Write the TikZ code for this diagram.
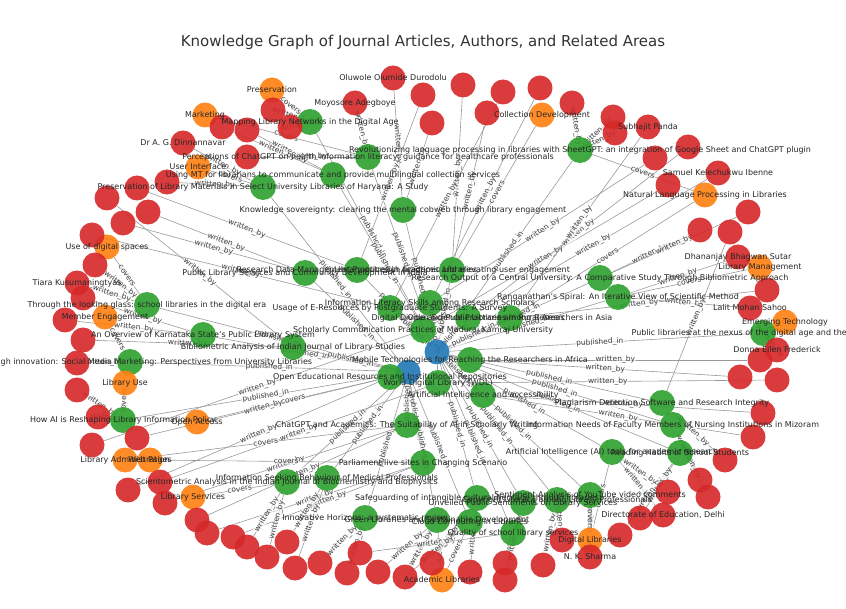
\documentclass[tikz,border=0pt]{standalone}
\usepackage{fontspec}
\setmainfont{DejaVu Sans}
\definecolor{jrnlblue}{HTML}{1F77B4}
\definecolor{artgreen}{HTML}{2CA02C}
\definecolor{authred}{HTML}{D62728}
\definecolor{areaorange}{HTML}{FF7F0E}
\pgfdeclarelayer{bg}
\pgfsetlayers{bg,main}

\begin{document}
\begin{tikzpicture}[x=1pt, y=-1pt,
                      jrnlnode/.style={circle, fill=jrnlblue, fill opacity=0.9, minimum size=25pt, inner sep=0pt},
                      artnode/.style={circle, fill=artgreen, fill opacity=0.9, minimum size=26pt, inner sep=0pt},
                      authnode/.style={circle, fill=authred, fill opacity=0.9, minimum size=25pt, inner sep=0pt},
                      areanode/.style={circle, fill=areaorange, fill opacity=0.9, minimum size=25pt, inner sep=0pt},
                      nlabel/.style={font=\fontsize{8}{9}\selectfont, text=black!85, inner sep=0pt},
                      link/.style={draw=black!40, line width=0.6pt},
                      elabel/.style={font=\fontsize{7.5}{8}\selectfont, text=black!75, sloped, inner sep=0.5pt, fill=white, fill opacity=0.6, text opacity=1},
                  ]
                  \useasboundingbox (0,0) rectangle (846,609);
                  \node[font=\fontsize{15}{18}\selectfont, text=black!80] (title) at (423,42) {Knowledge Graph of Journal Articles, Authors, and Related Areas};

                  % Nodes
                  \node[jrnlnode]   (jrnl_1)  at (437,352) {};
                  \node[jrnlnode]   (jrnl_2)  at (408,372) {};

                  \node[artnode]    (art_1)   at (310,122) {};
                  \node[artnode]    (art_2)   at (368,157) {};
                  \node[artnode]    (art_3)   at (333,175) {};
                  \node[artnode]    (art_4)   at (263,187) {};
                  \node[artnode]    (art_5)   at (403,210) {};
                  \node[artnode]    (art_6)   at (580,150) {};
                  \node[artnode]    (art_7)   at (305,273) {};
                  \node[artnode]    (art_8)   at (357,270) {};
                  \node[artnode]    (art_9)   at (452,270) {};
                  \node[artnode]    (art_10)  at (600,278) {};
                  \node[artnode]    (art_11)  at (618,297) {};
                  \node[artnode]    (art_12)  at (147,305) {};
                  \node[artnode]    (art_13)  at (203,335) {};
                  \node[artnode]    (art_14)  at (293,347) {};
                  \node[artnode]    (art_15)  at (130,362) {};
                  \node[artnode]    (art_16)  at (123,420) {};
                  \node[artnode]    (art_17)  at (390,308) {};
                  \node[artnode]    (art_18)  at (430,303) {};
                  \node[artnode]    (art_19)  at (423,330) {};
                  \node[artnode]    (art_20)  at (468,318) {};
                  \node[artnode]    (art_21)  at (510,318) {};
                  \node[artnode]    (art_22)  at (470,360) {};
                  \node[artnode]    (art_23)  at (390,377) {};
                  \node[artnode]    (art_24)  at (438,383) {};
                  \node[artnode]    (art_25)  at (483,395) {};
                  \node[artnode]    (art_26)  at (407,425) {};
                  \node[artnode]    (art_27)  at (423,463) {};
                  \node[artnode]    (art_28)  at (763,333) {};
                  \node[artnode]    (art_29)  at (662,403) {};
                  \node[artnode]    (art_30)  at (673,425) {};
                  \node[artnode]    (art_31)  at (612,452) {};
                  \node[artnode]    (art_32)  at (680,453) {};
                  \node[artnode]    (art_33)  at (287,482) {};
                  \node[artnode]    (art_34)  at (327,478) {};
                  \node[artnode]    (art_35)  at (365,518) {};
                  \node[artnode]    (art_36)  at (437,520) {};
                  \node[artnode]    (art_37)  at (477,498) {};
                  \node[artnode]    (art_38)  at (523,503) {};
                  \node[artnode]    (art_39)  at (557,500) {};
                  \node[artnode]    (art_40)  at (590,495) {};
                  \node[artnode]    (art_41)  at (513,533) {};
                  \node[artnode]    (art_42)  at (470,522) {};

                  \node[areanode]   (area_1)  at (272,90)  {};
                  \node[areanode]   (area_2)  at (205,115) {};
                  \node[areanode]   (area_3)  at (198,167) {};
                  \node[areanode]   (area_4)  at (542,115) {};
                  \node[areanode]   (area_5)  at (705,195) {};
                  \node[areanode]   (area_6)  at (760,267) {};
                  \node[areanode]   (area_7)  at (785,322) {};
                  \node[areanode]   (area_8)  at (107,247) {};
                  \node[areanode]   (area_9)  at (105,317) {};
                  \node[areanode]   (area_10) at (125,383) {};
                  \node[areanode]   (area_11) at (197,422) {};
                  \node[areanode]   (area_12) at (125,460) {};
                  \node[areanode]   (area_13) at (150,460) {};
                  \node[areanode]   (area_14) at (193,497) {};
                  \node[areanode]   (area_15) at (442,580) {};
                  \node[areanode]   (area_16) at (590,540) {};

                  \node[authnode]   (auth_1)  at (393,78)  {};
                  \node[authnode]   (auth_2)  at (423,95)  {};
                  \node[authnode]   (auth_3)  at (463,85)  {};
                  \node[authnode]   (auth_4)  at (503,92)  {};
                  \node[authnode]   (auth_5)  at (540,88)  {};
                  \node[authnode]   (auth_6)  at (572,103) {};
                  \node[authnode]   (auth_7)  at (487,113) {};
                  \node[authnode]   (auth_8)  at (432,123) {};
                  \node[authnode]   (auth_9)  at (355,103) {};
                  \node[authnode]   (auth_10) at (273,110) {};
                  \node[authnode]   (auth_11) at (290,127) {};
                  \node[authnode]   (auth_12) at (247,130) {};
                  \node[authnode]   (auth_13) at (222,127) {};
                  \node[authnode]   (auth_14) at (247,157) {};
                  \node[authnode]   (auth_15) at (183,143) {};
                  \node[authnode]   (auth_16) at (137,188) {};
                  \node[authnode]   (auth_17) at (167,182) {};
                  \node[authnode]   (auth_18) at (107,198) {};
                  \node[authnode]   (auth_19) at (148,212) {};
                  \node[authnode]   (auth_20) at (123,223) {};
                  \node[authnode]   (auth_21) at (92,235)  {};
                  \node[authnode]   (auth_22) at (95,265)  {};
                  \node[authnode]   (auth_23) at (77,283)  {};
                  \node[authnode]   (auth_24) at (83,298)  {};
                  \node[authnode]   (auth_25) at (65,320)  {};
                  \node[authnode]   (auth_26) at (83,340)  {};
                  \node[authnode]   (auth_27) at (77,363)  {};
                  \node[authnode]   (auth_28) at (77,390)  {};
                  \node[authnode]   (auth_29) at (98,417)  {};
                  \node[authnode]   (auth_30) at (92,445)  {};
                  \node[authnode]   (auth_31) at (137,438) {};
                  \node[authnode]   (auth_32) at (128,490) {};
                  \node[authnode]   (auth_33) at (160,482) {};
                  \node[authnode]   (auth_34) at (165,503) {};
                  \node[authnode]   (auth_35) at (197,520) {};
                  \node[authnode]   (auth_36) at (207,533) {};
                  \node[authnode]   (auth_37) at (233,537) {};
                  \node[authnode]   (auth_38) at (247,547) {};
                  \node[authnode]   (auth_39) at (267,557) {};
                  \node[authnode]   (auth_40) at (287,542) {};
                  \node[authnode]   (auth_41) at (295,568) {};
                  \node[authnode]   (auth_42) at (320,563) {};
                  \node[authnode]   (auth_43) at (347,573) {};
                  \node[authnode]   (auth_44) at (360,553) {};
                  \node[authnode]   (auth_45) at (378,572) {};
                  \node[authnode]   (auth_46) at (405,577) {};
                  \node[authnode]   (auth_47) at (432,563) {};
                  \node[authnode]   (auth_48) at (470,572) {};
                  \node[authnode]   (auth_49) at (505,563) {};
                  \node[authnode]   (auth_50) at (505,580) {};
                  \node[authnode]   (auth_51) at (543,565) {};
                  \node[authnode]   (auth_52) at (562,540) {};
                  \node[authnode]   (auth_53) at (590,557) {};
                  \node[authnode]   (auth_54) at (620,535) {};
                  \node[authnode]   (auth_55) at (640,518) {};
                  \node[authnode]   (auth_56) at (663,515) {};
                  \node[authnode]   (auth_57) at (668,492) {};
                  \node[authnode]   (auth_58) at (700,480) {};
                  \node[authnode]   (auth_59) at (708,497) {};
                  \node[authnode]   (auth_60) at (725,460) {};
                  \node[authnode]   (auth_61) at (753,437) {};
                  \node[authnode]   (auth_62) at (763,413) {};
                  \node[authnode]   (auth_63) at (777,380) {};
                  \node[authnode]   (auth_64) at (740,377) {};
                  \node[authnode]   (auth_65) at (760,360) {};
                  \node[authnode]   (auth_66) at (777,350) {};
                  \node[authnode]   (auth_67) at (750,308) {};
                  \node[authnode]   (auth_68) at (767,290) {};
                  \node[authnode]   (auth_69) at (738,257) {};
                  \node[authnode]   (auth_70) at (730,232) {};
                  \node[authnode]   (auth_71) at (700,230) {};
                  \node[authnode]   (auth_72) at (748,212) {};
                  \node[authnode]   (auth_73) at (718,173) {};
                  \node[authnode]   (auth_74) at (668,185) {};
                  \node[authnode]   (auth_75) at (688,147) {};
                  \node[authnode]   (auth_76) at (655,158) {};
                  \node[authnode]   (auth_77) at (648,127) {};
                  \node[authnode]   (auth_78) at (615,133) {};
                  \node[authnode]   (auth_79) at (613,117) {};

                  %Lines
                  \begin{pgfonlayer}{bg}
                  \draw[link] (art_1) -- node[elabel]{published\_in} (jrnl_1);
                  \draw[link] (art_2) -- node[elabel]{published\_in} (jrnl_1);
                  \draw[link] (art_3) -- node[elabel]{published\_in} (jrnl_1);
                  \draw[link] (art_4) -- node[elabel]{published\_in} (jrnl_2);
                  \draw[link] (art_5) -- node[elabel]{published\_in} (jrnl_1);
                  \draw[link] (art_6) -- node[elabel]{published\_in} (jrnl_1);
                  \draw[link] (art_7) -- node[elabel]{published\_in} (jrnl_2);
                  \draw[link] (art_8) -- node[elabel]{published\_in} (jrnl_1);
                  \draw[link] (art_9) -- node[elabel]{published\_in} (jrnl_1);
                  \draw[link] (art_10) -- node[elabel]{published\_in} (jrnl_1);
                  \draw[link] (art_11) -- node[elabel]{published\_in} (jrnl_1);
                  \draw[link] (art_12) -- node[elabel]{published\_in} (jrnl_2);
                  \draw[link] (art_13) -- node[elabel]{published\_in} (jrnl_2);
                  \draw[link] (art_14) -- node[elabel]{published\_in} (jrnl_2);
                  \draw[link] (art_15) -- node[elabel]{published\_in} (jrnl_2);
                  \draw[link] (art_16) -- node[elabel]{published\_in} (jrnl_2);
                  \draw[link] (art_17) -- node[elabel]{published\_in} (jrnl_1);
                  \draw[link] (art_18) -- node[elabel]{published\_in} (jrnl_1);
                  \draw[link] (art_19) -- (jrnl_1);
                  \draw[link] (art_20) -- node[elabel]{published\_in} (jrnl_1);
                  \draw[link] (art_21) -- node[elabel]{published\_in} (jrnl_1);
                  \draw[link] (art_22) -- (jrnl_1);
                  \draw[link] (art_23) -- (jrnl_2);
                  \draw[link] (art_24) -- (jrnl_1);
                  \draw[link] (art_25) -- node[elabel]{published\_in} (jrnl_1);
                  \draw[link] (art_26) -- node[elabel]{published\_in} (jrnl_2);
                  \draw[link] (art_27) -- node[elabel]{published\_in} (jrnl_2);
                  \draw[link] (art_28) -- node[elabel]{published\_in} (jrnl_1);
                  \draw[link] (art_29) -- node[elabel]{published\_in} (jrnl_1);
                  \draw[link] (art_30) -- node[elabel]{published\_in} (jrnl_1);
                  \draw[link] (art_31) -- node[elabel]{published\_in} (jrnl_1);
                  \draw[link] (art_32) -- node[elabel]{published\_in} (jrnl_1);
                  \draw[link] (art_33) -- node[elabel]{published\_in} (jrnl_2);
                  \draw[link] (art_34) -- node[elabel]{published\_in} (jrnl_2);
                  \draw[link] (art_35) -- node[elabel]{published\_in} (jrnl_2);
                  \draw[link] (art_36) -- node[elabel]{published\_in} (jrnl_2);
                  \draw[link] (art_37) -- node[elabel]{published\_in} (jrnl_1);
                  \draw[link] (art_38) -- node[elabel]{published\_in} (jrnl_1);
                  \draw[link] (art_39) -- node[elabel]{published\_in} (jrnl_1);
                  \draw[link] (art_40) -- node[elabel]{published\_in} (jrnl_1);
                  \draw[link] (art_41) -- node[elabel]{published\_in} (jrnl_1);
                  \draw[link] (art_42) -- node[elabel]{published\_in} (jrnl_2);

                  \draw[link] (art_1) -- node[elabel]{written\_by} (auth_10);
                  \draw[link] (art_1) -- node[elabel]{written\_by} (auth_11);
                  \draw[link] (art_1) -- node[elabel]{covers} (area_1);
                  \draw[link] (art_2) -- node[elabel]{written\_by} (auth_9);
                  \draw[link] (art_2) -- node[elabel]{written\_by} (auth_14);
                  \draw[link] (art_2) -- node[elabel]{covers} (area_2);
                  \draw[link] (art_3) -- node[elabel]{written\_by} (auth_12);
                  \draw[link] (art_3) -- node[elabel]{written\_by} (auth_13);
                  \draw[link] (art_4) -- node[elabel]{written\_by} (auth_15);
                  \draw[link] (art_4) -- node[elabel]{written\_by} (auth_17);
                  \draw[link] (art_4) -- node[elabel]{covers} (area_3);
                  \draw[link] (art_5) -- node[elabel]{written\_by} (auth_1);
                  \draw[link] (art_5) -- node[elabel]{written\_by} (auth_8);
                  \draw[link] (art_6) -- node[elabel]{written\_by} (auth_6);
                  \draw[link] (art_6) -- node[elabel]{written\_by} (auth_79);
                  \draw[link] (art_6) -- node[elabel]{written\_by} (auth_78);
                  \draw[link] (art_6) -- node[elabel]{covers} (area_5);
                  \draw[link] (art_7) -- node[elabel]{written\_by} (auth_19);
                  \draw[link] (art_7) -- node[elabel]{written\_by} (auth_20);
                  \draw[link] (art_8) -- node[elabel]{written\_by} (auth_2);
                  \draw[link] (art_8) -- node[elabel]{written\_by} (auth_16);
                  \draw[link] (art_9) -- node[elabel]{written\_by} (auth_3);
                  \draw[link] (art_9) -- node[elabel]{written\_by} (auth_7);
                  \draw[link] (art_9) -- node[elabel]{covers} (area_4);
                  \draw[link] (art_10) -- node[elabel]{written\_by} (auth_71);
                  \draw[link] (art_10) -- node[elabel]{written\_by} (auth_72);
                  \draw[link] (art_11) -- node[elabel]{written\_by} (auth_67);
                  \draw[link] (art_11) -- node[elabel]{written\_by} (auth_69);
                  \draw[link] (art_11) -- node[elabel]{covers} (area_6);
                  \draw[link] (art_12) -- node[elabel]{written\_by} (auth_22);
                  \draw[link] (art_12) -- node[elabel]{written\_by} (auth_23);
                  \draw[link] (art_12) -- node[elabel]{covers} (area_8);
                  \draw[link] (art_13) -- node[elabel]{written\_by} (auth_24);
                  \draw[link] (art_13) -- node[elabel]{written\_by} (auth_25);
                  \draw[link] (art_14) -- node[elabel]{written\_by} (auth_26);
                  \draw[link] (art_14) -- node[elabel]{written\_by} (auth_18);
                  \draw[link] (art_15) -- node[elabel]{written\_by} (auth_27);
                  \draw[link] (art_15) -- node[elabel]{covers} (area_9);
                  \draw[link] (art_16) -- node[elabel]{written\_by} (auth_28);
                  \draw[link] (art_16) -- node[elabel]{written\_by} (auth_29);
                  \draw[link] (art_16) -- node[elabel]{covers} (area_10);
                  \draw[link] (art_17) -- node[elabel]{written\_by} (auth_4);
                  \draw[link] (art_17) -- node[elabel]{written\_by} (auth_21);
                  \draw[link] (art_18) -- node[elabel]{written\_by} (auth_5);
                  \draw[link] (art_18) -- node[elabel]{written\_by} (auth_76);
                  \draw[link] (art_19) -- node[elabel]{written\_by} (auth_74);
                  \draw[link] (art_19) -- node[elabel]{written\_by} (auth_30);
                  \draw[link] (art_20) -- node[elabel]{written\_by} (auth_73);
                  \draw[link] (art_20) -- node[elabel]{written\_by} (auth_75);
                  \draw[link] (art_21) -- node[elabel]{written\_by} (auth_68);
                  \draw[link] (art_21) -- node[elabel]{written\_by} (auth_77);
                  \draw[link] (art_21) -- node[elabel]{covers} (area_5);
                  \draw[link] (art_22) -- node[elabel]{written\_by} (auth_65);
                  \draw[link] (art_22) -- node[elabel]{written\_by} (auth_64);
                  \draw[link] (art_23) -- node[elabel]{written\_by} (auth_31);
                  \draw[link] (art_23) -- node[elabel]{written\_by} (auth_32);
                  \draw[link] (art_23) -- node[elabel]{covers} (area_11);
                  \draw[link] (art_24) -- node[elabel]{written\_by} (auth_63);
                  \draw[link] (art_24) -- node[elabel]{written\_by} (auth_33);
                  \draw[link] (art_25) -- node[elabel]{written\_by} (auth_61);
                  \draw[link] (art_25) -- node[elabel]{written\_by} (auth_62);
                  \draw[link] (art_26) -- node[elabel]{written\_by} (auth_34);
                  \draw[link] (art_26) -- node[elabel]{written\_by} (auth_35);
                  \draw[link] (art_26) -- node[elabel]{covers} (area_12);
                  \draw[link] (art_27) -- node[elabel]{written\_by} (auth_36);
                  \draw[link] (art_27) -- node[elabel]{written\_by} (auth_37);
                  \draw[link] (art_27) -- node[elabel]{covers} (area_13);
                  \draw[link] (art_28) -- node[elabel]{written\_by} (auth_66);
                  \draw[link] (art_28) -- node[elabel]{covers} (area_7);
                  \draw[link] (art_29) -- node[elabel]{written\_by} (auth_60);
                  \draw[link] (art_29) -- node[elabel]{written\_by} (auth_70);
                  \draw[link] (art_30) -- node[elabel]{written\_by} (auth_58);
                  \draw[link] (art_30) -- node[elabel]{written\_by} (auth_59);
                  \draw[link] (art_31) -- node[elabel]{written\_by} (auth_56);
                  \draw[link] (art_31) -- node[elabel]{written\_by} (auth_57);
                  \draw[link] (art_31) -- node[elabel]{covers} (area_16);
                  \draw[link] (art_32) -- node[elabel]{written\_by} (auth_54);
                  \draw[link] (art_32) -- node[elabel]{written\_by} (auth_55);
                  \draw[link] (art_33) -- node[elabel]{written\_by} (auth_38);
                  \draw[link] (art_33) -- node[elabel]{written\_by} (auth_39);
                  \draw[link] (art_33) -- node[elabel]{covers} (area_14);
                  \draw[link] (art_34) -- node[elabel]{written\_by} (auth_40);
                  \draw[link] (art_34) -- node[elabel]{written\_by} (auth_41);
                  \draw[link] (art_35) -- node[elabel]{written\_by} (auth_42);
                  \draw[link] (art_35) -- node[elabel]{written\_by} (auth_43);
                  \draw[link] (art_36) -- node[elabel]{written\_by} (auth_45);
                  \draw[link] (art_36) -- node[elabel]{written\_by} (auth_46);
                  \draw[link] (art_36) -- node[elabel]{covers} (area_15);
                  \draw[link] (art_37) -- node[elabel]{written\_by} (auth_47);
                  \draw[link] (art_37) -- node[elabel]{written\_by} (auth_48);
                  \draw[link] (art_38) -- node[elabel]{written\_by} (auth_49);
                  \draw[link] (art_38) -- node[elabel]{written\_by} (auth_50);
                  \draw[link] (art_39) -- node[elabel]{written\_by} (auth_51);
                  \draw[link] (art_39) -- node[elabel]{written\_by} (auth_52);
                  \draw[link] (art_40) -- node[elabel]{written\_by} (auth_53);
                  \draw[link] (art_40) -- node[elabel]{covers} (area_16);
                  \draw[link] (art_41) -- node[elabel]{written\_by} (auth_44);
                  \draw[link] (art_42) -- node[elabel]{written\_by} (auth_46);
                  \draw[link] (art_42) -- node[elabel]{covers} (area_15);
                  \end{pgfonlayer}

                  % Labels
                  \node[nlabel] (art_1_txt)  at (art_1)  {Mapping Library Networks in the Digital Age};
                  \node[nlabel] (art_2_txt)  at (art_2)  {Perceptions of ChatGPT on health information literacy: guidance for healthcare professionals};
                  \node[nlabel] (art_3_txt)  at (art_3)  {Using MT for librarians to communicate and provide multilingual collection services};
                  \node[nlabel] (art_4_txt)  at (art_4)  {Preservation of Library Materials in Select University Libraries of Haryana: A Study};
                  \node[nlabel] (art_5_txt)  at (art_5)  {Knowledge sovereignty: clearing the mental cobweb through library engagement};
                  \node[nlabel] (art_6_txt)  at (art_6)  {Revolutionizing language processing in libraries with SheetGPT: an integration of Google Sheet and ChatGPT plugin};
                  \node[nlabel] (art_7_txt)  at (art_7)  {Public Library Services and Community Development in India};
                  \node[nlabel] (art_8_txt)  at (art_8)  {Research Data Management Practices in Academic Libraries};
                  \node[nlabel] (art_9_txt)  at (art_9)  {Library outreach practices and elevating user engagement};
                  \node[nlabel] (art_10_txt) at (art_10) {Research Output of a Central University: A Comparative Study Through Bibliometric Approach};
                  \node[nlabel] (art_11_txt) at (art_11) {Ranganathan's Spiral: An Iterative View of Scientific Method};
                  \node[nlabel] (art_12_txt) at (art_12) {Through the looking glass: school libraries in the digital era};
                  \node[nlabel] (art_13_txt) at (art_13) {An Overview of Karnataka State's Public Library System};
                  \node[nlabel] (art_14_txt) at (art_14) {Bibliometric Analysis of Indian Journal of Library Studies};
                  \node[nlabel] (art_15_txt) at (art_15) {Growth through innovation: Social Media Marketing: Perspectives from University Libraries};
                  \node[nlabel] (art_16_txt) at (art_16) {How AI is Reshaping Library Information Policy};
                  \node[nlabel] (art_17_txt) at (art_17) {Usage of E-Resources by Postgraduate Students: A Survey};
                  \node[nlabel] (art_18_txt) at (art_18) {Information Literacy Skills among Research Scholars};
                  \node[nlabel] (art_19_txt) at (art_19) {Scholarly Communication Practices of Madurai Kamraj University};
                  \node[nlabel] (art_20_txt) at (art_20) {Digital Divide and Public Libraries in Rural Areas};
                  \node[nlabel] (art_21_txt) at (art_21) {Open Science Practices among Researchers in Asia};
                  \node[nlabel] (art_22_txt) at (art_22) {Mobile Technologies for Reaching the Researchers in Africa};
                  \node[nlabel] (art_23_txt) at (art_23) {Open Educational Resources and Institutional Repositories};
                  \node[nlabel] (art_24_txt) at (art_24) {World Digital Library (WDL)};
                  \node[nlabel] (art_25_txt) at (art_25) {Artificial Intelligence and accessibility};
                  \node[nlabel] (art_26_txt) at (art_26) {ChatGPT and Academics: The Suitability of AI in Scholarly Writing};
                  \node[nlabel] (art_27_txt) at (art_27) {Parliament live sites in Changing Scenario};
                  \node[nlabel] (art_28_txt) at (art_28) {Public libraries at the nexus of the digital age and the community};
                  \node[nlabel] (art_29_txt) at (art_29) {Plagiarism Detection Software and Research Integrity};
                  \node[nlabel] (art_30_txt) at (art_30) {Information Needs of Faculty Members of Nursing Institutions in Mizoram};
                  \node[nlabel] (art_31_txt) at (art_31) {Artificial Intelligence (AI) tools for academic research};
                  \node[nlabel] (art_32_txt) at (art_32) {Reading Habits of School Students};
                  \node[nlabel] (art_33_txt) at (art_33) {Scientometric Analysis in the Indian Journal of Biochemistry and Biophysics};
                  \node[nlabel] (art_34_txt) at (art_34) {Information Seeking Behaviour of Medical Professionals};
                  \node[nlabel] (art_35_txt) at (art_35) {Innovative Horizons: a systematic review};
                  \node[nlabel] (art_36_txt) at (art_36) {Green Libraries and Sustainable Development};
                  \node[nlabel] (art_37_txt) at (art_37) {Safeguarding of intangible cultural heritage through libraries};
                  \node[nlabel] (art_38_txt) at (art_38) {Unveiled Public Sentiments on Library Services};
                  \node[nlabel] (art_39_txt) at (art_39) {Copyright Literacy among Library Professionals};
                  \node[nlabel] (art_40_txt) at (art_40) {Sentiment Analysis of YouTube video comments};
                  \node[nlabel] (art_41_txt) at (art_41) {Quality of school library services};
                  \node[nlabel] (art_42_txt) at (art_42) {Cloud Computing in Libraries};

                  \node[nlabel] (area_1_txt)  at (area_1)  {Preservation};
                  \node[nlabel] (area_2_txt)  at (area_2)  {Marketing};
                  \node[nlabel] (area_3_txt)  at (area_3)  {User Interface};
                  \node[nlabel] (area_4_txt)  at (area_4)  {Collection Development};
                  \node[nlabel] (area_5_txt)  at (area_5)  {Natural Language Processing in Libraries};
                  \node[nlabel] (area_6_txt)  at (area_6)  {Library Management};
                  \node[nlabel] (area_7_txt)  at (area_7)  {Emerging Technology};
                  \node[nlabel] (area_8_txt)  at (area_8)  {Use of digital spaces};
                  \node[nlabel] (area_9_txt)  at (area_9)  {Member Engagement};
                  \node[nlabel] (area_10_txt) at (area_10) {Library Use};
                  \node[nlabel] (area_11_txt) at (area_11) {Open Access};
                  \node[nlabel] (area_12_txt) at (area_12) {Library Administration};
                  \node[nlabel] (area_13_txt) at (area_13) {Web Pages};
                  \node[nlabel] (area_14_txt) at (area_14) {Library Services};
                  \node[nlabel] (area_15_txt) at (area_15) {Academic Libraries};
                  \node[nlabel] (area_16_txt) at (area_16) {Digital Libraries};

                  \node[nlabel] (auth_1_txt)  at (auth_1)  {Oluwole Olumide Durodolu};
                  \node[nlabel] (auth_9_txt)  at (auth_9)  {Moyosore Adegboye};
                  \node[nlabel] (auth_15_txt) at (auth_15) {Dr A. G. Dinnannavar};
                  \node[nlabel] (auth_23_txt) at (auth_23) {Tiara Kusumaningtyas};
                  \node[nlabel] (auth_53_txt) at (auth_53) {N. K. Sharma};
                  \node[nlabel] (auth_56_txt) at (auth_56) {Directorate of Education, Delhi};
                  \node[nlabel] (auth_66_txt) at (auth_66) {Donna Ellen Frederick};
                  \node[nlabel] (auth_67_txt) at (auth_67) {Lalit Mohan Sahoo};
                  \node[nlabel] (auth_69_txt) at (auth_69) {Dhananjay Bhagwan Sutar};
                  \node[nlabel] (auth_73_txt) at (auth_73) {Samuel Kelechukwu Ibenne};
                  \node[nlabel] (auth_77_txt) at (auth_77) {Subhajit Panda};
\end{tikzpicture}
\end{document}
